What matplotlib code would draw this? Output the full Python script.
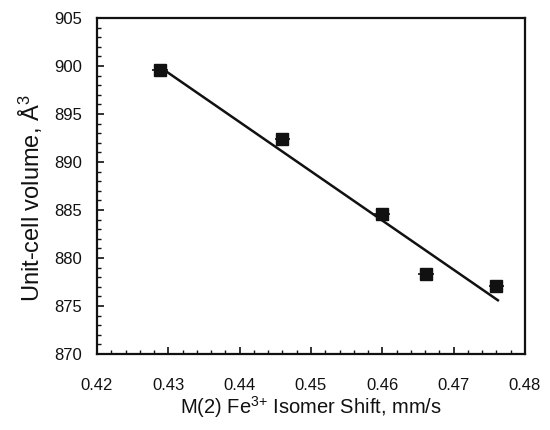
import matplotlib
matplotlib.use("Agg")
import matplotlib.pyplot as plt
from matplotlib.ticker import MultipleLocator

# Data
isomer_shift = [0.4288, 0.4460, 0.4600, 0.4661, 0.4760]
cell_volume = [899.6, 892.4, 884.6, 878.3, 877.1]
xerr = [0.0011, 0.0011, 0.0011, 0.0011, 0.0011]
fit_x = [0.4288, 0.4762]
fit_y = [899.9, 875.6]
x_ticks = [0.42, 0.43, 0.44, 0.45, 0.46, 0.47, 0.48]
y_ticks = [870, 875, 880, 885, 890, 895, 900, 905]

plt.rcParams['font.family'] = ['Liberation Sans', 'DejaVu Sans']
plt.rcParams['mathtext.fontset'] = 'custom'
plt.rcParams['mathtext.rm'] = 'Liberation Sans'
plt.rcParams['mathtext.it'] = 'Liberation Sans'

fig = plt.figure(figsize=(5.5, 4.3), dpi=100)
ax = fig.add_axes([0.1764, 0.1767, 0.9545 - 0.1764, 0.9581 - 0.1767])

ax.plot(fit_x, fit_y, color='#111111', lw=1.8, zorder=2)
ax.errorbar(isomer_shift, cell_volume, xerr=xerr, fmt='s', color='#111111',
            ms=8.5, mfc='#111111', mec='#111111', ecolor='#111111',
            elinewidth=1.2, capsize=0, zorder=3)

ax.set_xlim(0.42, 0.48)
ax.set_ylim(870, 905)
ax.set_xticks(x_ticks)
ax.set_xticklabels([f"{v:.2f}" for v in x_ticks])
ax.set_yticks(y_ticks)
ax.set_yticklabels([str(v) for v in y_ticks])
ax.xaxis.set_minor_locator(MultipleLocator(0.002))
ax.yaxis.set_minor_locator(MultipleLocator(1))

ax.tick_params(axis='both', which='major', direction='in', length=5, width=1.2,
               labelsize=12, colors='#111111')
ax.tick_params(axis='both', which='minor', direction='in', length=3, width=1.0,
               colors='#111111')
ax.tick_params(axis='x', which='major', pad=17)
ax.tick_params(axis='y', which='major', pad=11)
ax.tick_params(top=False, right=False, which='both')

for s in ax.spines.values():
    s.set_linewidth(1.6)
    s.set_color('#111111')

ax.set_xlabel('M(2) Fe$^{\\mathregular{3{+}}}$ Isomer Shift, mm/s', fontsize=14.5,
              color='#111111', labelpad=1)
ax.set_ylabel('Unit-cell volume, Å$^{\\mathregular{3}}$', fontsize=17,
              color='#111111')
ax.yaxis.set_label_coords(-0.122, 0.465)

fig.savefig('out.png', dpi=100)
